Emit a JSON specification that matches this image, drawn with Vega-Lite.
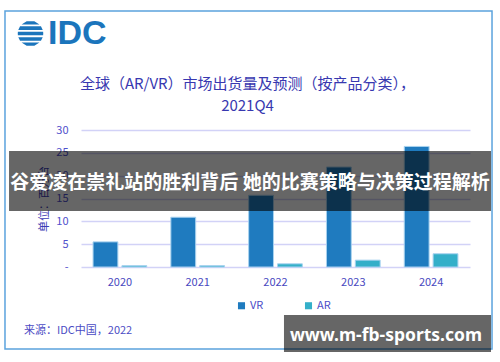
{
  "$schema": "https://vega.github.io/schema/vega-lite/v6.json",
  "width": 389,
  "height": 137,
  "autosize": {"type": "none"},
  "padding": {"left": 81, "top": 130, "right": 30, "bottom": 95},
  "background": "white",
  "config": {
    "view": {"stroke": null},
    "font": "Noto Sans CJK SC"
  },
  "title": {
    "text": ["全球（AR/VR）市场出货量及预测（按产品分类），", "2021Q4"],
    "anchor": "middle",
    "frame": "group",
    "dx": -28,
    "offset": -103.75,
    "fontSize": 15,
    "fontWeight": "normal",
    "color": "#3838b0",
    "lineHeight": 22,
    "font": "Noto Sans CJK SC"
  },
  "resolve": {"scale": {"x": "independent"}, "axis": {"x": "independent", "y": "independent"}},
  "layer": [
    {
      "data": {
        "values": [
          {"year": "2020", "type": "VR", "value": 5.5},
          {"year": "2020", "type": "AR", "value": 0.3},
          {"year": "2021", "type": "VR", "value": 10.9},
          {"year": "2021", "type": "AR", "value": 0.3},
          {"year": "2022", "type": "VR", "value": 15.7},
          {"year": "2022", "type": "AR", "value": 0.7},
          {"year": "2023", "type": "VR", "value": 21.9},
          {"year": "2023", "type": "AR", "value": 1.5},
          {"year": "2024", "type": "VR", "value": 26.4},
          {"year": "2024", "type": "AR", "value": 2.9}
        ]
      },
      "mark": {"type": "bar", "stroke": "#a8d2ef", "strokeWidth": 1},
      "encoding": {
        "x": {
          "field": "year", "type": "ordinal",
          "scale": {"paddingInner": 0.31, "paddingOuter": 0.155},
          "axis": {"title": null, "labelAngle": 0, "domain": false, "ticks": false, "labelPadding": 9, "labelFontSize": 11, "labelColor": "#4848c0", "labelFont": "Noto Sans CJK SC"}
        },
        "xOffset": {"field": "type", "type": "nominal", "scale": {"domain": ["VR", "AR"], "paddingInner": 0.14, "paddingOuter": 0}},
        "y": {
          "field": "value", "type": "quantitative",
          "scale": {"domain": [0, 30], "nice": false},
          "axis": {
            "title": "单位：百万台", "titleFontSize": 11, "titleFontWeight": "normal", "titleColor": "#3c3cb4", "titlePadding": 6, "titleFont": "Noto Sans CJK SC",
            "values": [0, 5, 10, 15, 20, 25, 30],
            "labelExpr": "datum.value === 0 ? '-\u00a0\u00a0' : datum.label",
            "labelOverlap": false, "labelBound": false,
            "grid": true, "gridColor": "#d2d2f7", "gridWidth": 1.5,
            "domain": false, "ticks": false, "labelPadding": 13, "labelFontSize": 11, "labelColor": "#5050cc", "labelFont": "Noto Sans CJK SC"
          }
        },
        "color": {
          "field": "type", "type": "nominal",
          "scale": {"domain": ["VR", "AR"], "range": ["#1f7bbf", "#34afc9"]},
          "legend": {
            "title": null, "orient": "none", "legendX": 155, "legendY": 170, "direction": "horizontal",
            "symbolType": "square", "symbolSize": 50, "symbolStrokeWidth": 0, "labelFontSize": 11, "labelColor": "#4b4bc8",
            "labelFont": "Noto Sans CJK SC", "columnPadding": 39, "labelOffset": 3
          }
        }
      }
    },
    {
      "data": {"values": [{}]},
      "mark": {"type": "rect", "fillOpacity": 0, "stroke": "#5ba3dd", "strokeWidth": 1.5},
      "encoding": {
        "x": {"datum": -0.977, "type": "quantitative", "scale": {"domain": [0, 5], "nice": false}, "axis": null},
        "x2": {"datum": 5.283},
        "y": {"datum": 56.05, "type": "quantitative", "scale": {"domain": [0, 30], "nice": false}, "axis": null},
        "y2": {"datum": -17.95}
      }
    },
    {
      "data": {"values": [{}]},
      "mark": {"type": "point", "filled": true, "opacity": 1, "color": "#1b75bc", "strokeWidth": 0, "size": 650,
        "shape": "M-0.3,-0.954L0.3,-0.954L0.702,-0.712L-0.702,-0.712ZM-0.82,-0.572L0.82,-0.572L0.959,-0.284L-0.959,-0.284ZM-0.99,-0.144L0.99,-0.144L1,0L0.99,0.144L-0.99,0.144L-1,0ZM-0.959,0.284L0.959,0.284L0.82,0.572L-0.82,0.572ZM-0.702,0.712L0.702,0.712L0.3,0.954L-0.3,0.954Z"},
      "encoding": {
        "x": {"datum": -0.649, "type": "quantitative", "scale": {"domain": [0, 5], "nice": false}, "axis": null},
        "y": {"datum": 51.13, "type": "quantitative", "scale": {"domain": [0, 30], "nice": false}, "axis": null}
      }
    },
    {
      "data": {"values": [{}]},
      "mark": {"type": "text", "text": "IDC", "align": "left", "baseline": "middle", "fontSize": 34, "fontWeight": "bold", "font": "Liberation Sans", "color": "#1b75bc"},
      "encoding": {
        "x": {"datum": -0.424, "type": "quantitative", "scale": {"domain": [0, 5], "nice": false}, "axis": null},
        "y": {"datum": 51.02, "type": "quantitative", "scale": {"domain": [0, 30], "nice": false}, "axis": null}
      }
    },
    {
      "data": {"values": [{}]},
      "mark": {"type": "text", "text": "来源：IDC中国，2022", "align": "left", "baseline": "middle", "fontSize": 11, "font": "Noto Sans CJK SC", "color": "#4b4bc4"},
      "encoding": {
        "x": {"datum": -0.733, "type": "quantitative", "scale": {"domain": [0, 5], "nice": false}, "axis": null},
        "y": {"datum": -14.01, "type": "quantitative", "scale": {"domain": [0, 30], "nice": false}, "axis": null}
      }
    },
    {
      "data": {"values": [{}]},
      "mark": {"type": "rect", "color": "black", "opacity": 0.6},
      "encoding": {
        "x": {"datum": -0.925, "type": "quantitative", "scale": {"domain": [0, 5], "nice": false}, "axis": null},
        "x2": {"datum": 5.27},
        "y": {"datum": 25.4, "type": "quantitative", "scale": {"domain": [0, 30], "nice": false}, "axis": null},
        "y2": {"datum": 12.26}
      }
    },
    {
      "data": {"values": [{}]},
      "mark": {"type": "text", "text": "谷爱凌在崇礼站的胜利背后 她的比赛策略与决策过程解析", "align": "center", "baseline": "middle", "fontSize": 19, "fontWeight": "bold", "font": "Noto Sans CJK SC", "color": "white"},
      "encoding": {
        "x": {"datum": 2.172, "type": "quantitative", "scale": {"domain": [0, 5], "nice": false}, "axis": null},
        "y": {"datum": 18.39, "type": "quantitative", "scale": {"domain": [0, 30], "nice": false}, "axis": null}
      }
    },
    {
      "data": {"values": [{}]},
      "mark": {"type": "rect", "color": "black", "opacity": 0.6},
      "encoding": {
        "x": {"datum": 2.609, "type": "quantitative", "scale": {"domain": [0, 5], "nice": false}, "axis": null},
        "x2": {"datum": 5.27},
        "y": {"datum": -10.51, "type": "quantitative", "scale": {"domain": [0, 30], "nice": false}, "axis": null},
        "y2": {"datum": -18.61}
      }
    },
    {
      "data": {"values": [{}]},
      "mark": {"type": "text", "text": "www.m-fb-sports.com", "align": "center", "baseline": "middle", "fontSize": 17.5, "fontWeight": "bold", "font": "Noto Sans", "color": "white"},
      "encoding": {
        "x": {"datum": 3.92, "type": "quantitative", "scale": {"domain": [0, 5], "nice": false}, "axis": null},
        "y": {"datum": -15.1, "type": "quantitative", "scale": {"domain": [0, 30], "nice": false}, "axis": null}
      }
    }
  ]
}
